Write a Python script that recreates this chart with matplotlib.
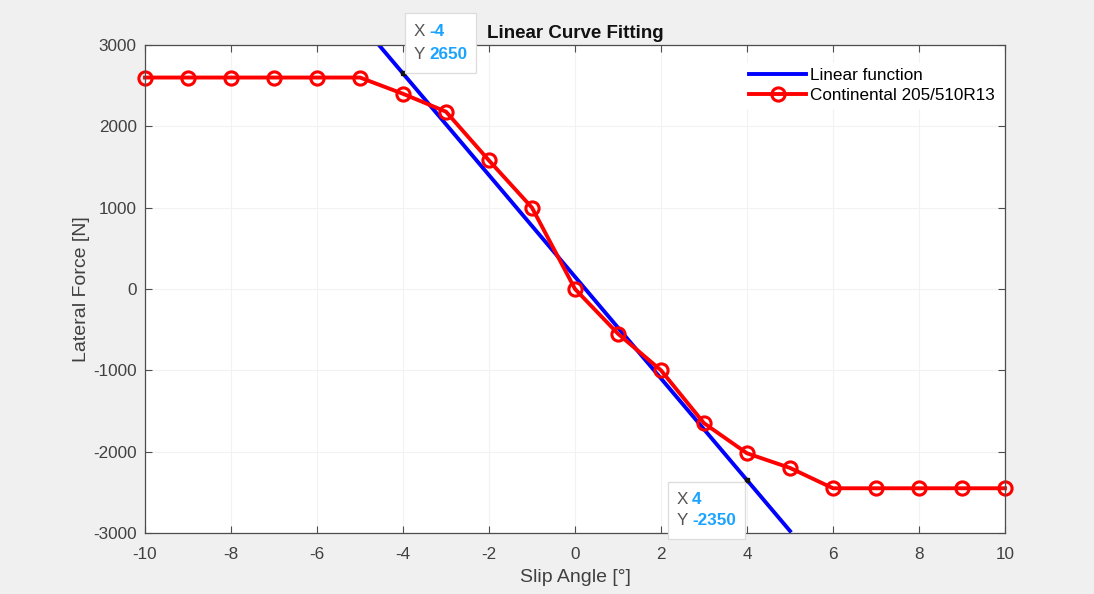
import matplotlib
matplotlib.use("Agg")
import matplotlib.pyplot as plt
from matplotlib.patches import Rectangle
import numpy as np

plt.rcParams['font.family'] = ['Liberation Sans', 'DejaVu Sans']
plt.rcParams['axes.unicode_minus'] = False

# Measured tyre data
slip_angle = [-10, -9, -8, -7, -6, -5, -4, -3, -2, -1, 0, 1, 2, 3, 4, 5, 6, 7, 8, 9, 10]
lateral_force = [2600, 2600, 2600, 2600, 2600, 2600, 2400, 2180, 1580, 1000, 0,
                 -550, -1000, -1650, -2020, -2200, -2450, -2450, -2450, -2450, -2450]

# Linear fit: F = intercept + slope * alpha
fit_slope = -625
fit_intercept = 150
fit_range = [-5, 5]

# Data tips on the fitted line
tip_x = [-4, 4]

W, H = 1094, 594
fig = plt.figure(figsize=(W / 100, H / 100), dpi=100, facecolor='#f0f0f0')
ax = fig.add_axes([145 / W, 1 - 533 / H, 860 / W, 488 / H])
ax.set_facecolor('white')

fx = np.array(fit_range, dtype=float)
ax.plot(fx, fit_intercept + fit_slope * fx, color='#0000ff', lw=2.8, label='Linear function', zorder=3)
ax.plot(slip_angle, lateral_force, color='#ff0000', lw=2.8, marker='o', ms=9.5,
        mfc='none', mec='#ff0000', mew=2.2, label='Continental 205/510R13', zorder=4, clip_on=False)

ax.set_xlim(-10, 10)
ax.set_ylim(-3000, 3000)
ax.set_xticks(np.arange(-10, 11, 2))
ax.set_yticks(np.arange(-3000, 3001, 1000))
ax.grid(True, color='#f2f2f2', lw=0.8)
ax.set_axisbelow(True)
ax.tick_params(direction='in', top=True, right=True, length=5, width=0.8,
               labelsize=12.3, colors='#4d4d4d', labelcolor='#404040')
ax.tick_params(axis='x', pad=10)
ax.tick_params(axis='y', pad=6)
for s in ax.spines.values():
    s.set_color('#4d4d4d')
    s.set_linewidth(0.9)
    s.set_zorder(10)

ax.set_xlabel('Slip Angle [°]', fontsize=14, color='#404040', labelpad=5)
ax.set_ylabel('Lateral Force [N]', fontsize=14, color='#404040', labelpad=2)
ax.set_title('Linear Curve Fitting', fontsize=13.5, fontweight='bold', color='#111111', pad=5)

leg = ax.legend(loc='upper right', bbox_to_anchor=(0.998, 0.970), fontsize=12.3, frameon=True,
                fancybox=False, edgecolor='#ffffff', framealpha=1, handlelength=3.3,
                handletextpad=0.25, borderpad=0.3, borderaxespad=0.2, labelspacing=0.28)
leg.set_zorder(5)

# Box geometry in pixels: (dx, dy) of the box's anchor corner relative to the point, width, height
tip_boxes = [
    dict(dx=2, dy=0, w=71, h=60, corner='lower left'),
    dict(dx=-2, dy=-2, w=77, h=57, corner='upper right'),
]

fig.canvas.draw()
for tx, geo in zip(tip_x, tip_boxes):
    ty = fit_intercept + fit_slope * tx
    ax.plot([tx], [ty], 's', color='#111111', ms=3.5, zorder=6, clip_on=False)
    px, py = ax.transData.transform((tx, ty))
    if geo['corner'] == 'lower left':
        x0 = px + geo['dx']
        y0 = py + geo['dy']
    else:
        x0 = px + geo['dx'] - geo['w']
        y0 = py + geo['dy'] - geo['h']
    fig.patches.append(Rectangle((x0 / W, y0 / H), geo['w'] / W, geo['h'] / H,
                                 transform=fig.transFigure, fc='white', ec='#dcdcdc',
                                 lw=0.9, zorder=7))
    row1 = y0 + geo['h'] * 0.70
    row2 = y0 + geo['h'] * 0.32
    lx = x0 + 9
    fig.text(lx / W, row1 / H, 'X', fontsize=12.3, color='#555555', va='center', ha='left', zorder=8)
    fig.text(lx / W, row2 / H, 'Y', fontsize=12.3, color='#555555', va='center', ha='left', zorder=8)
    fig.text((lx + 15) / W, row1 / H, str(tx), fontsize=12.3, color='#1aa3ff',
             fontweight='bold', va='center', ha='left', zorder=8)
    fig.text((lx + 15) / W, row2 / H, str(int(ty)), fontsize=12.3, color='#1aa3ff',
             fontweight='bold', va='center', ha='left', zorder=8)

fig.savefig('out.png', dpi=100, facecolor=fig.get_facecolor())
